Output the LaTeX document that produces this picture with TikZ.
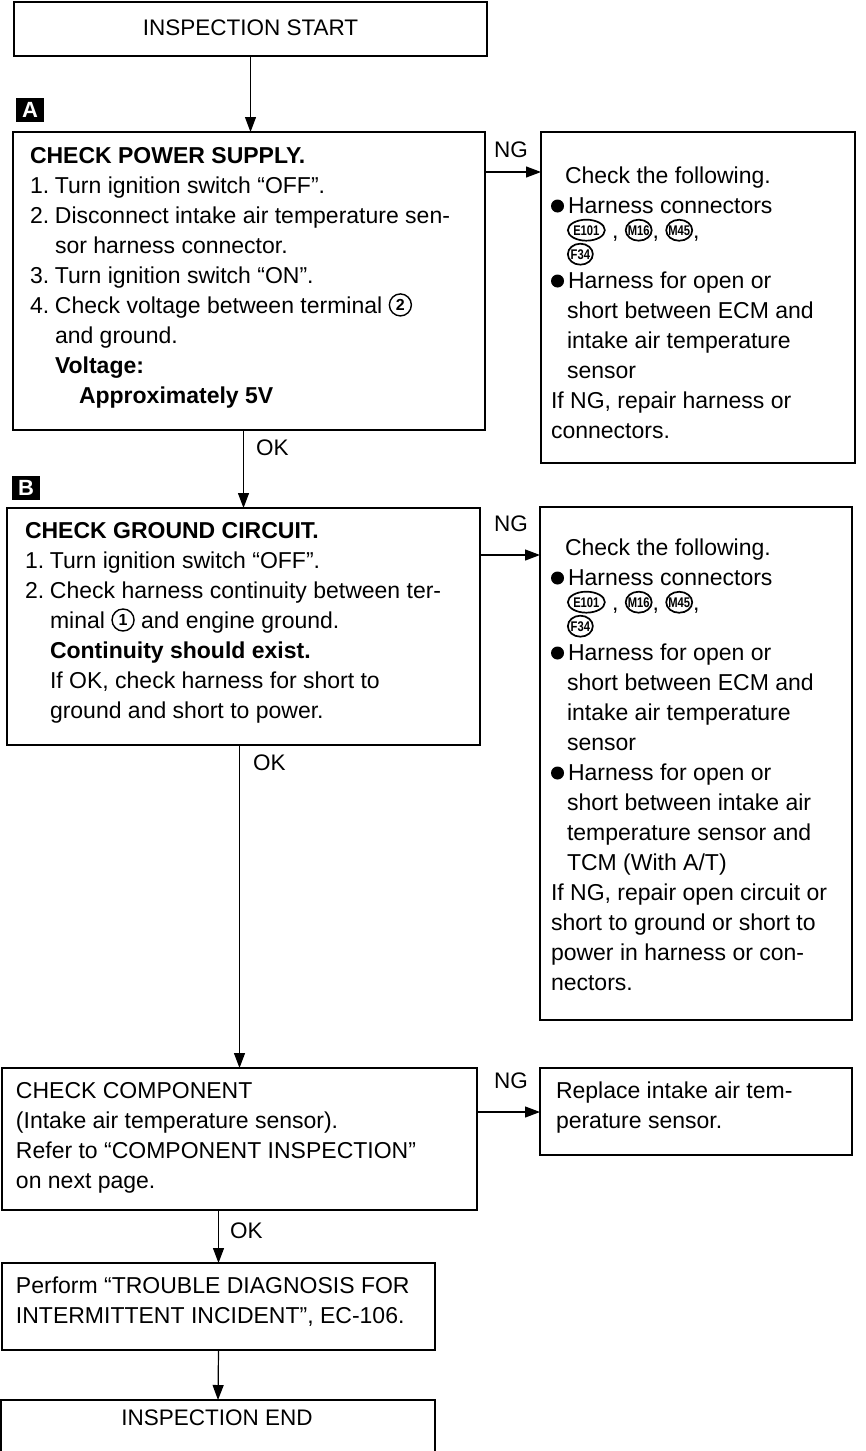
\documentclass[tikz,border=0pt]{standalone}
\usepackage{fontspec}
\setmainfont{Liberation Sans}
\usetikzlibrary{arrows.meta,shapes.geometric}
\newcommand\mybul{\makebox[17pt][l]{\tikz[baseline=0pt]\fill (6.5pt,7pt) circle[radius=6.5pt];}}
\newcommand\circnum[2]{\tikz[baseline={([yshift=-2.5pt]#1.base)}]\node[circle,draw,line width=1.4pt,inner sep=0pt,minimum size=22pt,font=\bfseries\fontsize{16}{16}\selectfont] (#1) {#2};}
\newcommand\conn[3]{\tikz[baseline={([yshift=-3pt]#1.base)}]\node[ellipse,draw,line width=1.7pt,inner xsep=-7pt,inner ysep=-4pt,minimum width=#2,minimum height=21pt,font=\bfseries\fontsize{14}{14}\selectfont] (#1) {\scalebox{0.8}[1]{#3}};}
\begin{document}
\begin{tikzpicture}[x=1pt,y=-1pt,
  box/.style={draw,line width=1.4pt,inner sep=0pt,outer sep=0pt,anchor=north west},
  txt/.style={anchor=base west,inner sep=0pt,outer sep=0pt,font=\fontsize{23}{30}\selectfont},
  lbl/.style={anchor=base west,inner sep=0pt,outer sep=0pt,font=\fontsize{22.5}{22.5}\selectfont},
  tag/.style={fill=black,text=white,inner sep=0pt,minimum width=28pt,minimum height=24pt,font=\bfseries\fontsize{22}{22}\selectfont},
  arr/.style={line width=1.2pt,-{Triangle[length=15pt,width=11pt]}}]
\useasboundingbox (0,0) rectangle (866,1451);

% boxes
\node[box,minimum width=473pt,minimum height=54pt] (S) at (14,2) {};
\node[box,minimum width=472pt,minimum height=298pt] (A) at (13,132) {};
\node[box,minimum width=314pt,minimum height=331pt] (R1) at (541,132) {};
\node[box,minimum width=473pt,minimum height=237pt] (B) at (7,508) {};
\node[box,minimum width=312pt,minimum height=513pt] (R2) at (540,507) {};
\node[box,minimum width=475pt,minimum height=142pt] (C) at (2,1068) {};
\node[box,minimum width=312pt,minimum height=87pt] (R3) at (540,1068) {};
\node[box,minimum width=433pt,minimum height=87pt] (P) at (2,1263) {};
\node[box,minimum width=434pt,minimum height=70pt] (E) at (1,1400) {};

% tags
\node[tag] (tagA) at (30,110) {A};
\node[tag] (tagB) at (26,488) {B};

% texts
\node[lbl,anchor=base] (tS) at (250.5,35) {INSPECTION START};
\node[lbl,anchor=base] (tE) at (217,1425) {INSPECTION END};

\node[txt] (tA) at (30,163) {\begin{tabular}[t]{@{}l@{}}
\textbf{CHECK POWER SUPPLY.}\\
\makebox[25pt][l]{1.}Turn ignition switch “OFF”.\\
\makebox[25pt][l]{2.}Disconnect intake air temperature sen-\\
\hspace*{25pt}sor harness connector.\\
\makebox[25pt][l]{3.}Turn ignition switch “ON”.\\
\makebox[25pt][l]{4.}Check voltage between terminal \circnum{cn2}{2}\\
\hspace*{25pt}and ground.\\
\hspace*{25pt}\textbf{Voltage:}\\
\hspace*{49pt}\textbf{Approximately 5V}
\end{tabular}};

\node[txt] (tR1) at (551,183) {\begin{tabular}[t]{@{}l@{}}
\hspace*{14pt}Check the following.\\
\mybul Harness connectors\\[-5pt]
\hspace*{16pt}\conn{ca}{37pt}{E101} , \conn{cb}{26pt}{M16}, \conn{cc}{26pt}{M45},\\[-6pt]
\hspace*{16pt}\conn{cd}{25pt}{F34}\\[-4pt]
\mybul Harness for open or\\
\hspace*{16pt}short between ECM and\\
\hspace*{16pt}intake air temperature\\
\hspace*{16pt}sensor\\
If NG, repair harness or\\
connectors.
\end{tabular}};

\node[txt] (tB) at (25,538) {\begin{tabular}[t]{@{}l@{}}
\textbf{CHECK GROUND CIRCUIT.}\\
\makebox[25pt][l]{1.}Turn ignition switch “OFF”.\\
\makebox[25pt][l]{2.}Check harness continuity between ter-\\
\hspace*{25pt}minal \circnum{cn1}{1} and engine ground.\\
\hspace*{25pt}\textbf{Continuity should exist.}\\
\hspace*{25pt}If OK, check harness for short to\\
\hspace*{25pt}ground and short to power.
\end{tabular}};

\node[txt] (tR2) at (551,555) {\begin{tabular}[t]{@{}l@{}}
\hspace*{14pt}Check the following.\\
\mybul Harness connectors\\[-5pt]
\hspace*{16pt}\conn{ce}{37pt}{E101} , \conn{cf}{26pt}{M16}, \conn{cg}{26pt}{M45},\\[-6pt]
\hspace*{16pt}\conn{ch}{25pt}{F34}\\[-4pt]
\mybul Harness for open or\\
\hspace*{16pt}short between ECM and\\
\hspace*{16pt}intake air temperature\\
\hspace*{16pt}sensor\\
\mybul Harness for open or\\
\hspace*{16pt}short between intake air\\
\hspace*{16pt}temperature sensor and\\
\hspace*{16pt}TCM (With A/T)\\
If NG, repair open circuit or\\
short to ground or short to\\
power in harness or con-\\
nectors.
\end{tabular}};

\node[txt] (tC) at (16,1098) {\begin{tabular}[t]{@{}l@{}}
CHECK COMPONENT\\
(Intake air temperature sensor).\\
Refer to “COMPONENT INSPECTION”\\
on next page.
\end{tabular}};

\node[txt] (tR3) at (556,1098) {\begin{tabular}[t]{@{}l@{}}
Replace intake air tem-\\
perature sensor.
\end{tabular}};

\node[txt] (tP) at (16,1293) {\begin{tabular}[t]{@{}l@{}}
Perform “TROUBLE DIAGNOSIS FOR\\
INTERMITTENT INCIDENT”, EC-106.
\end{tabular}};

% connectors
\draw[arr] (S.south) -- (S.south |- A.north);
\draw[arr] (B.north |- A.south) -- (B.north);
\draw[arr] (C.north |- B.south) -- (C.north);
\draw[arr] (P.north |- C.south) -- (P.north);
\draw[arr] (P.south) -- (E.north);

\draw[arr] ([yshift=-40pt]A.north east) -- ([yshift=-40pt]A.north east -| R1.west);
\draw[arr] ([yshift=-47pt]B.north east) -- ([yshift=-47pt]B.north east -| R2.west);
\draw[arr] ([yshift=-44pt]C.north east) -- ([yshift=-44pt]C.north east -| R3.west);

% labels
\node[lbl] (ng1) at (494,157) {NG};
\node[lbl] (ng2) at (494,531) {NG};
\node[lbl] (ng3) at (494,1088) {NG};
\node[lbl] (ok1) at (256,455) {OK};
\node[lbl] (ok2) at (253,770) {OK};
\node[lbl] (ok3) at (230,1238) {OK};
\end{tikzpicture}
\end{document}
